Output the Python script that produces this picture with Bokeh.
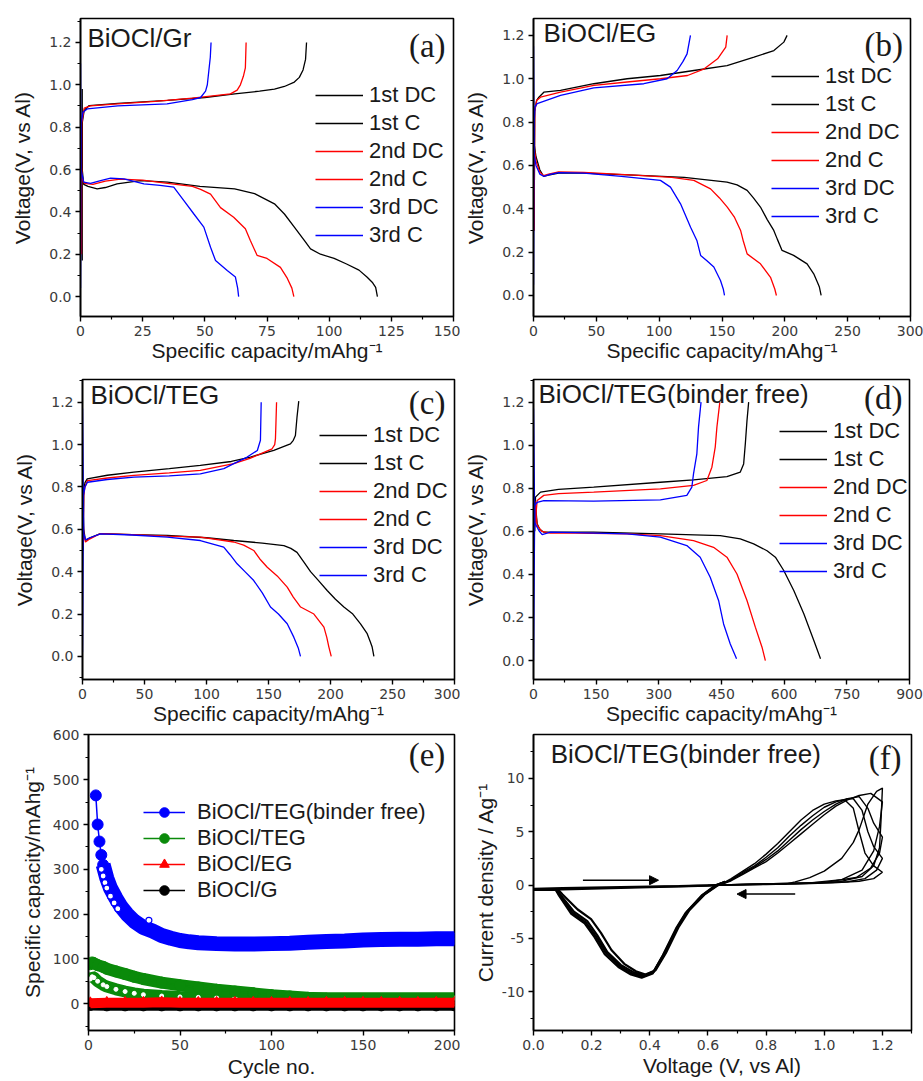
from bokeh.plotting import figure
from bokeh.models import (Range1d, FixedTicker, PrintfTickFormatter, Legend, LegendItem,
                          Label, Arrow, NormalHead)
from bokeh.layouts import row, column
from bokeh.embed import file_html
from bokeh.resources import INLINE

BLACK, RED, BLUE, GREEN = "#000000", "#ff0000", "#0000ff", "#0a8a0a"

# ---------------- tick values ----------------
volt_ticks = [0.0, 0.2, 0.4, 0.6, 0.8, 1.0, 1.2]
volt_minor = [-0.1, 0.1, 0.3, 0.5, 0.7, 0.9, 1.1, 1.3]
a_xticks = [0, 25, 50, 75, 100, 125, 150]
bc_xticks = [0, 50, 100, 150, 200, 250, 300]
d_xticks = [0, 150, 300, 450, 600, 750, 900]
e_xticks = [0, 50, 100, 150, 200]
e_yticks = [0, 100, 200, 300, 400, 500, 600]
f_xticks = [0.0, 0.2, 0.4, 0.6, 0.8, 1.0, 1.2]
f_yticks = [-10, -5, 0, 5, 10]

curve_labels = ["1st DC", "1st C", "2nd DC", "2nd C", "3rd DC", "3rd C"]

# ---------------- (a) BiOCl/Gr ----------------
a_dc1_cap = [0.7, 0.7, 1.3, 3.0, 6.7, 10.0, 14.7, 24.0, 35.0, 48.0, 62.0, 70.0, 78.0, 82.0, 86.0, 90.0, 92.5, 96.5, 102.0, 107.0, 112.0, 115.3, 117.5, 118.7, 119.4]
a_dc1_v = [0.98, 0.60, 0.53, 0.52, 0.509, 0.515, 0.532, 0.548, 0.54, 0.52, 0.509, 0.486, 0.438, 0.39, 0.328, 0.265, 0.225, 0.2, 0.18, 0.154, 0.125, 0.091, 0.065, 0.044, 0.0]
a_c1_cap = [0.7, 0.7, 1.5, 3.5, 15, 35, 50, 62, 72, 78, 82, 86, 88, 89.5, 90.5, 90.9]
a_c1_v = [0.17, 0.82, 0.88, 0.902, 0.912, 0.926, 0.94, 0.957, 0.97, 0.98, 0.992, 1.013, 1.035, 1.07, 1.12, 1.2]
a_dc2_cap = [0.3, 0.6, 1.5, 5, 10, 16, 25, 35, 45, 48.3, 52.3, 56.3, 61.6, 66.3, 68.3, 71, 75, 80.4, 83, 85, 85.8]
a_dc2_v = [0.62, 0.56, 0.535, 0.53, 0.545, 0.555, 0.55, 0.535, 0.52, 0.506, 0.484, 0.42, 0.375, 0.32, 0.265, 0.195, 0.18, 0.138, 0.09, 0.04, 0.0]
a_c2_cap = [0.4, 0.5, 1.5, 4, 15, 30, 45, 55, 60.3, 63, 64.3, 65.5, 66.3, 66.6]
a_c2_v = [0.2, 0.82, 0.89, 0.9, 0.91, 0.922, 0.937, 0.95, 0.957, 0.975, 1.0, 1.04, 1.08, 1.2]
a_dc3_cap = [0.0, 0.2, 1.3, 4, 8.1, 12.1, 17.5, 25.5, 32, 37.5, 41.5, 45.6, 49.6, 52.3, 54.3, 59, 62.3, 63.2, 63.6]
a_dc3_v = [1.1, 0.6, 0.54, 0.535, 0.548, 0.559, 0.556, 0.532, 0.525, 0.517, 0.454, 0.39, 0.328, 0.233, 0.17, 0.123, 0.092, 0.04, 0.0]
a_c3_cap = [0.0, 0.3, 1.0, 2.7, 15, 34.8, 45, 48.3, 50.3, 51.0, 51.6, 52.2, 52.5]
a_c3_v = [0.04, 0.82, 0.87, 0.886, 0.9, 0.91, 0.93, 0.94, 0.97, 1.0, 1.065, 1.13, 1.2]

# ---------------- (b) BiOCl/EG ----------------
b_dc1_cap = [0.3, 0.5, 2, 5, 8, 12, 20, 40, 80, 120, 154, 162, 170, 175, 180.6, 186, 191.2, 194, 197.8, 207, 217.7, 223, 226, 227.5, 228.9]
b_dc1_v = [0.72, 0.7, 0.64, 0.58, 0.55, 0.555, 0.565, 0.565, 0.555, 0.545, 0.523, 0.51, 0.485, 0.45, 0.408, 0.35, 0.3, 0.26, 0.208, 0.185, 0.146, 0.1, 0.06, 0.039, 0.0]
b_c1_cap = [0.5, 1.0, 2.5, 4.3, 8.2, 21.5, 48, 74.5, 101, 127.6, 154, 175.5, 191.3, 199.2, 201.8]
b_c1_v = [0.3, 0.85, 0.9, 0.915, 0.938, 0.946, 0.977, 1.0, 1.015, 1.038, 1.061, 1.1, 1.13, 1.169, 1.2]
b_dc2_cap = [0.2, 0.5, 2, 5, 8, 12, 20, 40, 80, 110, 127.6, 140.9, 148, 154.2, 160, 164.8, 167, 170, 180.6, 188.6, 192, 193.3]
b_dc2_v = [0.72, 0.68, 0.62, 0.57, 0.553, 0.56, 0.57, 0.568, 0.555, 0.545, 0.531, 0.492, 0.45, 0.408, 0.36, 0.3, 0.25, 0.192, 0.146, 0.084, 0.03, 0.0]
b_c2_cap = [0.5, 1.0, 2.5, 5.6, 21.5, 48, 74.5, 101, 122.6, 135.9, 146.5, 153, 154.1]
b_c2_v = [0.3, 0.85, 0.9, 0.915, 0.938, 0.969, 0.985, 1.0, 1.015, 1.046, 1.092, 1.146, 1.2]
b_dc3_cap = [0.0, 0.5, 2, 5, 8, 12, 20, 40, 70, 101, 109, 117, 125, 130, 133, 138, 143.5, 148.8, 151, 152]
b_dc3_v = [1.15, 0.65, 0.6, 0.56, 0.55, 0.557, 0.567, 0.565, 0.55, 0.531, 0.5, 0.423, 0.315, 0.254, 0.185, 0.16, 0.131, 0.069, 0.03, 0.0]
b_c3_cap = [0.0, 0.5, 1.2, 2.9, 21.5, 48, 87.8, 106.3, 114.3, 119, 122.2, 124.9]
b_c3_v = [0.05, 0.8, 0.87, 0.885, 0.923, 0.958, 0.977, 1.0, 1.038, 1.08, 1.115, 1.2]

# ---------------- (c) BiOCl/TEG ----------------
c_dc1_cap = [0.5, 1.0, 2.4, 6, 14.5, 40, 68.3, 100, 122, 145, 162.4, 168, 173, 178, 183.9, 190, 197.3, 204, 210.8, 218, 224.2, 229.6, 232, 233.6, 235]
c_dc1_v = [0.7, 0.6, 0.547, 0.56, 0.58, 0.575, 0.571, 0.56, 0.547, 0.535, 0.523, 0.51, 0.491, 0.45, 0.4, 0.36, 0.311, 0.27, 0.233, 0.2, 0.154, 0.107, 0.07, 0.044, 0.0]
c_c1_cap = [0.5, 1.0, 2.0, 3.8, 20, 41.4, 70, 95, 120, 135.4, 154.3, 162, 167.7, 170, 171.7, 173, 174.4]
c_c1_v = [0.5, 0.78, 0.82, 0.838, 0.855, 0.87, 0.886, 0.902, 0.92, 0.941, 0.972, 0.99, 1.003, 1.02, 1.043, 1.13, 1.205]
c_dc2_cap = [0.3, 1.0, 2.4, 6, 14.5, 40, 68.3, 95, 122, 130, 138.1, 143, 149, 157, 165.1, 170, 175.9, 186.6, 194.7, 197, 198.7, 200.6]
c_dc2_v = [0.7, 0.58, 0.54, 0.555, 0.58, 0.575, 0.568, 0.563, 0.54, 0.525, 0.5, 0.46, 0.421, 0.38, 0.327, 0.28, 0.233, 0.2, 0.138, 0.09, 0.044, 0.0]
c_c2_cap = [0.5, 1.0, 2.0, 4, 20, 41.4, 70, 95, 122, 135, 143.5, 152.9, 155, 155.6, 156, 156.5]
c_c2_v = [0.52, 0.76, 0.8, 0.83, 0.842, 0.854, 0.866, 0.878, 0.91, 0.935, 0.956, 0.98, 1.0, 1.027, 1.1, 1.2]
c_dc3_cap = [0.0, 1.0, 2.4, 6, 14.5, 40, 68.3, 95, 113.9, 119, 124.7, 131, 138.1, 145, 151.6, 158, 165.1, 170.4, 174, 175.8]
c_dc3_v = [1.17, 0.58, 0.55, 0.56, 0.578, 0.573, 0.563, 0.547, 0.516, 0.48, 0.437, 0.4, 0.358, 0.3, 0.233, 0.2, 0.154, 0.091, 0.04, 0.0]
c_c3_cap = [0.0, 0.8, 2.0, 4, 20, 41.4, 70, 95, 114, 122, 132.8, 141, 143.5, 144.1]
c_c3_v = [0.02, 0.76, 0.8, 0.822, 0.835, 0.846, 0.852, 0.862, 0.886, 0.91, 0.941, 0.972, 1.02, 1.2]

# ---------------- (d) BiOCl/TEG (binder free) ----------------
d_dc1_cap = [3, 8.8, 15, 24.7, 60, 144, 303.7, 447, 495, 527, 559, 579, 599, 623, 647, 671, 687]
d_dc1_v = [0.76, 0.635, 0.61, 0.596, 0.596, 0.596, 0.588, 0.58, 0.565, 0.542, 0.51, 0.48, 0.418, 0.325, 0.217, 0.093, 0.008]
d_c1_cap = [3, 4.8, 16.8, 60, 144, 303.7, 383, 463, 495, 503, 507, 511, 515]
d_c1_v = [0.6, 0.759, 0.782, 0.795, 0.805, 0.828, 0.839, 0.854, 0.875, 0.913, 1.006, 1.114, 1.2]
d_dc2_cap = [3, 8.8, 20, 40, 100, 224, 303.7, 383, 431, 463, 487, 511, 531, 547, 555]
d_dc2_v = [0.74, 0.627, 0.6, 0.592, 0.592, 0.588, 0.58, 0.557, 0.526, 0.48, 0.402, 0.279, 0.155, 0.062, 0.0]
d_c2_cap = [3, 8.8, 24.7, 60, 144, 303.7, 383, 415, 427, 435, 439, 446]
d_c2_v = [0.62, 0.743, 0.767, 0.775, 0.782, 0.797, 0.813, 0.836, 0.898, 0.991, 1.084, 1.2]
d_dc3_cap = [0, 3, 12.8, 20.7, 40.7, 100, 224, 303.7, 367, 399, 423, 443, 455, 471, 486]
d_dc3_v = [1.17, 0.64, 0.604, 0.585, 0.596, 0.594, 0.588, 0.573, 0.534, 0.48, 0.387, 0.279, 0.17, 0.077, 0.008]
d_c3_cap = [0, 3, 8.8, 24.7, 144, 303.7, 367, 379, 383, 391, 395, 401]
d_c3_v = [0.0, 0.72, 0.735, 0.743, 0.74, 0.746, 0.767, 0.805, 0.867, 0.96, 1.084, 1.2]

# ---------------- (e) cycling ----------------
e_cyc_bf = [4, 5, 6, 7, 8, 10, 12, 15, 18, 21, 25, 30, 35, 40, 45, 50, 55, 60, 70, 80, 90, 100, 110, 120, 130, 140, 150, 160, 170, 180, 190, 200]
e_dc_bf = [465, 400, 362, 332, 310, 280, 258, 235, 215, 200, 184, 170, 162, 152, 146, 141, 138, 136, 134, 133, 133, 134, 135, 137, 139, 140, 142, 143, 144, 144, 145, 145]
e_cyc_bf_c = [7, 8, 9, 10, 12, 14, 16, 33]
e_ch_bf = [300, 285, 270, 258, 240, 225, 212, 186]
e_cyc_teg = [1, 2, 3, 5, 8, 10, 15, 20, 25, 30, 40, 50, 60, 70, 80, 90, 100, 110, 120, 130, 140, 150, 160, 170, 180, 190, 200]
e_dc_teg = [88, 92, 90, 86, 82, 78, 72, 66, 60, 55, 47, 41, 36, 31, 27, 23, 19, 16, 13, 11, 10, 9, 8, 7, 7, 6, 6]
e_cyc_teg_c = [1, 2, 3, 5, 8, 10, 15, 20, 25, 30, 40, 50, 60, 70, 80, 100, 120, 150, 200]
e_ch_teg = [55, 60, 58, 50, 42, 38, 32, 27, 23, 20, 17, 15, 14, 13, 13, 12, 12, 12, 12]
e_cyc_eg_g = [1, 10, 20, 30, 40, 50, 60, 70, 80, 90, 100, 110, 120, 130, 140, 150, 160, 170, 180, 190, 200]
e_cap_eg = [1, 2, 2, 2, 3, 2, 2, 2, 2, 2, 2, 2, 2, 2, 2, 2, 2, 2, 2, 2, 2]
e_cap_g = [-4, -5, -5, -5, -5, -5, -5, -5, -5, -5, -5, -5, -5, -5, -5, -5, -5, -5, -5, -5, -5]

# ---------------- (f) CV ----------------
f_fwd1_v = [0.0, 0.1, 0.2, 0.3, 0.4, 0.5, 0.6, 0.64]
f_fwd1_i = [-0.35, -0.3, -0.25, -0.2, -0.15, -0.1, -0.03, 0.0]
f_fwd2_v = [0.0, 0.1, 0.2, 0.3, 0.4, 0.5, 0.6, 0.64]
f_fwd2_i = [-0.45, -0.42, -0.35, -0.28, -0.2, -0.12, -0.05, 0.0]
f_red1_v = [0.66, 0.632, 0.586, 0.529, 0.495, 0.449, 0.415, 0.381, 0.345, 0.30, 0.254, 0.219, 0.185, 0.139, 0.093, 0.08, 0.0]
f_red1_i = [0.3, 0.0, -0.9, -2.5, -4.0, -6.5, -8.1, -8.5, -8.2, -7.5, -6.3, -4.7, -3.4, -2.5, -0.93, -0.45, -0.45]
f_red2_v = [0.66, 0.635, 0.59, 0.535, 0.50, 0.455, 0.42, 0.385, 0.352, 0.312, 0.268, 0.232, 0.198, 0.152, 0.10, 0.085, 0.0]
f_red2_i = [0.3, 0.0, -0.85, -2.4, -3.9, -6.4, -8.0, -8.4, -8.1, -7.4, -6.1, -4.5, -3.2, -2.3, -0.9, -0.45, -0.45]
f_red3_v = [0.66, 0.628, 0.58, 0.524, 0.49, 0.445, 0.41, 0.372, 0.335, 0.292, 0.245, 0.21, 0.176, 0.13, 0.088, 0.076, 0.0]
f_red3_i = [0.3, 0.0, -0.95, -2.6, -4.1, -6.6, -8.3, -8.7, -8.4, -7.7, -6.5, -4.9, -3.6, -2.7, -1.0, -0.45, -0.45]
f_red4_v = [0.66, 0.63, 0.583, 0.527, 0.493, 0.447, 0.412, 0.377, 0.34, 0.296, 0.25, 0.214, 0.18, 0.134, 0.09, 0.078, 0.0]
f_red4_i = [0.3, 0.0, -0.92, -2.55, -4.05, -6.55, -8.2, -8.6, -8.3, -7.6, -6.4, -4.8, -3.5, -2.6, -0.96, -0.45, -0.45]
f_ox1_v = [0.64, 0.68, 0.72, 0.76, 0.80, 0.84, 0.88, 0.92, 0.96, 1.00, 1.04, 1.07, 1.10, 1.12, 1.14, 1.17, 1.20, 1.17, 1.12, 1.03, 0.90, 0.64]
f_ox1_i = [0.0, 0.6, 1.3, 2.0, 2.9, 3.9, 5.0, 6.1, 7.0, 7.6, 7.9, 8.0, 7.2, 5.0, 3.0, 1.8, 1.2, 0.6, 0.35, 0.2, 0.1, 0.0]
f_ox2_v = [0.64, 0.68, 0.72, 0.76, 0.80, 0.84, 0.88, 0.92, 0.96, 1.00, 1.04, 1.08, 1.10, 1.13, 1.15, 1.17, 1.20, 1.18, 1.14, 1.08, 0.95, 0.64]
f_ox2_i = [0.0, 0.5, 1.2, 1.8, 2.6, 3.5, 4.6, 5.6, 6.5, 7.3, 7.8, 8.1, 8.1, 7.0, 5.0, 3.6, 2.5, 1.4, 0.6, 0.3, 0.15, 0.0]
f_ox3_v = [0.64, 0.68, 0.72, 0.76, 0.80, 0.84, 0.88, 0.92, 0.96, 1.00, 1.04, 1.08, 1.12, 1.15, 1.17, 1.20, 1.19, 1.16, 1.11, 1.00, 0.64]
f_ox3_i = [0.0, 0.45, 1.1, 1.7, 2.4, 3.2, 4.2, 5.2, 6.1, 6.9, 7.6, 8.1, 8.3, 7.2, 5.8, 4.5, 3.0, 1.6, 0.7, 0.25, 0.0]
f_ox4_v = [0.64, 0.68, 0.72, 0.76, 0.80, 0.84, 0.88, 0.92, 0.96, 1.00, 1.04, 1.08, 1.12, 1.16, 1.20, 1.19, 1.17, 1.13, 1.06, 0.95, 0.64]
f_ox4_i = [0.0, 0.4, 1.0, 1.6, 2.2, 3.0, 3.9, 4.8, 5.7, 6.6, 7.4, 8.0, 8.4, 8.6, 7.8, 5.5, 3.2, 1.4, 0.5, 0.2, 0.0]
f_ox5_v = [0.64, 0.80, 0.87, 0.90, 0.95, 1.00, 1.06, 1.10, 1.12, 1.15, 1.18, 1.20, 1.195, 1.19, 1.17, 1.13, 1.05, 0.90, 0.64]
f_ox5_i = [0.0, 0.05, 0.1, 0.3, 0.7, 1.3, 2.5, 4.0, 5.2, 7.6, 8.8, 9.1, 6.0, 3.5, 1.8, 0.8, 0.3, 0.15, 0.0]
f_arrow_x0 = [0.17, 0.90]
f_arrow_x1 = [0.43, 0.70]
f_arrow_y = [0.45, -0.85]

CAP_LABEL = "Specific capacity/mAhg\u207b\u00b9"
TICK_FONT, TICK_SIZE, TICK_COLOR = "DejaVu Sans", "14px", "#3a3a3a"
LAB_FONT = "Liberation Sans"
TXT = "#1a1a1a"


def make_panel(xr, yr, fw, fh, bl, br, bt, bb, xt, xmt, yt, ymt, xlabel, ylabel,
               xstand, ystand, xfmt=None, yfmt=None):
    p = figure(frame_width=fw, frame_height=fh, x_range=Range1d(*xr), y_range=Range1d(*yr),
               min_border_left=bl, min_border_right=br, min_border_top=bt, min_border_bottom=bb,
               output_backend="svg", toolbar_location=None)
    p.grid.visible = False
    p.outline_line_color = "black"
    p.outline_line_width = 1.6
    p.outline_line_alpha = 1.0
    p.xaxis.ticker = FixedTicker(ticks=xt, minor_ticks=xmt)
    p.yaxis.ticker = FixedTicker(ticks=yt, minor_ticks=ymt)
    if xfmt:
        p.xaxis.formatter = PrintfTickFormatter(format=xfmt)
    if yfmt:
        p.yaxis.formatter = PrintfTickFormatter(format=yfmt)
    for ax in p.xaxis + p.yaxis:
        ax.axis_line_width = 1.6
        ax.major_tick_out = 5
        ax.major_tick_in = 0
        ax.minor_tick_out = 3
        ax.minor_tick_in = 0
        ax.major_tick_line_width = 1.4
        ax.minor_tick_line_width = 1.2
        ax.major_label_text_font = TICK_FONT
        ax.major_label_text_font_size = TICK_SIZE
        ax.major_label_text_color = TICK_COLOR
        ax.major_label_standoff = 4
        ax.axis_label_text_font = LAB_FONT
        ax.axis_label_text_font_size = "21px"
        ax.axis_label_text_font_style = "normal"
        ax.axis_label_text_color = TXT
    p.xaxis.axis_label = xlabel
    p.yaxis.axis_label = ylabel
    p.xaxis.axis_label_standoff = xstand
    p.yaxis.axis_label_standoff = ystand
    return p


def half(ticks):
    return [(ticks[i] + ticks[i + 1]) / 2 for i in range(len(ticks) - 1)]


def add_title(p, x, y, text, size="26px"):
    p.add_layout(Label(x=x, y=y, text=text, text_font=LAB_FONT, text_font_size=size,
                       text_color=TXT, text_baseline="middle"))


def add_letter(p, x, y, text):
    p.add_layout(Label(x=x, y=y, text=text, text_font="Liberation Serif", text_font_size="33px",
                       text_color=TXT, text_align="right", text_baseline="middle"))


def cd_panel(curves, xr, yr, xt, fw, fh, bl, br, bt, bb, legend_loc, title, title_xy, letter, letter_xy):
    p = make_panel(xr, yr, fw, fh, bl, br, bt, bb, xt, half(xt), volt_ticks, volt_minor,
                   CAP_LABEL, "Voltage(V, vs Al)", 0, 12, yfmt="%.1f")
    colors = [BLACK, BLACK, RED, RED, BLUE, BLUE]
    rends = []
    for (cap, v), col in zip(curves, colors):
        rends.append(p.line(cap, v, line_color=col, line_width=1.3))
    items = [LegendItem(label=lab, renderers=[r]) for lab, r in zip(curve_labels, rends)]
    leg = Legend(items=items, location=legend_loc, padding=0, margin=0, spacing=2,
                 glyph_width=48, glyph_height=24, label_height=24, label_standoff=6,
                 label_text_font=LAB_FONT, label_text_font_size="22px", label_text_color=TXT,
                 border_line_alpha=0, background_fill_alpha=0)
    p.add_layout(leg)
    add_title(p, title_xy[0], title_xy[1], title)
    add_letter(p, letter_xy[0], letter_xy[1], letter)
    return p


# row 1: frames 18..316 ; row 2: frames 379..679 ; row 3: frames 733..1029
pa = cd_panel([(a_dc1_cap, a_dc1_v), (a_c1_cap, a_c1_v), (a_dc2_cap, a_dc2_v),
               (a_c2_cap, a_c2_v), (a_dc3_cap, a_dc3_v), (a_c3_cap, a_c3_v)],
              (0, 150), (-0.094, 1.313), a_xticks, 373, 298, 80, 7, 18, 56, (235, 68),
              "BiOCl/Gr", (2.8, 1.219), "(a)", (146.8, 1.181))
pb = cd_panel([(b_dc1_cap, b_dc1_v), (b_c1_cap, b_c1_v), (b_dc2_cap, b_dc2_v),
               (b_c2_cap, b_c2_v), (b_dc3_cap, b_dc3_v), (b_c3_cap, b_c3_v)],
              (0, 300), (-0.097, 1.278), bc_xticks, 377, 298, 73, 13, 18, 56, (238, 87),
              "BiOCl/EG", (8, 1.209), "(b)", (294, 1.158))
pc = cd_panel([(c_dc1_cap, c_dc1_v), (c_c1_cap, c_c1_v), (c_dc2_cap, c_dc2_v),
               (c_c2_cap, c_c2_v), (c_dc3_cap, c_dc3_v), (c_c3_cap, c_c3_v)],
              (0, 300), (-0.109, 1.307), bc_xticks, 372, 300, 82, 6, 7, 47, (237, 91),
              "BiOCl/TEG", (6.5, 1.232), "(c)", (292.7, 1.194))
pd_ = cd_panel([(d_dc1_cap, d_dc1_v), (d_c1_cap, d_c1_v), (d_dc2_cap, d_dc2_v),
                (d_c2_cap, d_c2_v), (d_dc3_cap, d_dc3_v), (d_c3_cap, d_c3_v)],
               (0, 900), (-0.088, 1.305), d_xticks, 376, 300, 73, 14, 7, 47, (246, 95),
               "BiOCl/TEG(binder free)", (12, 1.236), "(d)", (883, 1.217))

# ---------------- panel e ----------------
pe = make_panel((0, 200), (-60, 601), 366, 296, 88, 6, 7, 52, e_xticks, half(e_xticks),
                e_yticks, half(e_yticks) + [-50], "Cycle no.", CAP_LABEL, 2, 6)
# BiOCl/TEG (green)
pe.line(e_cyc_teg_c, e_ch_teg, line_color=GREEN, line_width=12)
pe.line(e_cyc_teg, e_dc_teg, line_color=GREEN, line_width=12)
pe.scatter(e_cyc_teg_c, e_ch_teg, marker="circle", size=4, fill_color="white", line_color="white")
teg_thin = pe.line(e_cyc_teg, e_dc_teg, line_color=GREEN, line_width=1.5)
teg_sc = pe.scatter(e_cyc_teg, e_dc_teg, marker="circle", size=11, fill_color=GREEN, line_color=GREEN)
# BiOCl/G (black)
pe.line(e_cyc_eg_g, e_cap_g, line_color=BLACK, line_width=10)
g_thin = pe.line(e_cyc_eg_g, e_cap_g, line_color=BLACK, line_width=1.5)
g_sc = pe.scatter(e_cyc_eg_g, e_cap_g, marker="circle", size=10, fill_color=BLACK, line_color=BLACK)
# BiOCl/EG (red)
pe.line(e_cyc_eg_g, e_cap_eg, line_color=RED, line_width=10)
eg_thin = pe.line(e_cyc_eg_g, e_cap_eg, line_color=RED, line_width=1.5)
eg_sc = pe.scatter(e_cyc_eg_g, e_cap_eg, marker="triangle", size=11, fill_color=RED, line_color=RED)
# BiOCl/TEG binder free (blue)
pe.line(e_cyc_bf[4:], e_dc_bf[4:], line_color=BLUE, line_width=15)
bf_thin = pe.line(e_cyc_bf, e_dc_bf, line_color=BLUE, line_width=1.5)
bf_sc = pe.scatter(e_cyc_bf, e_dc_bf, marker="circle", size=11, fill_color=BLUE, line_color=BLUE)
pe.scatter(e_cyc_bf_c, e_ch_bf, marker="circle", size=6, fill_color="white", line_color=BLUE, line_width=1.2)
leg_e = Legend(items=[LegendItem(label="BiOCl/TEG(binder free)", renderers=[bf_thin, bf_sc]),
                      LegendItem(label="BiOCl/TEG", renderers=[teg_thin, teg_sc]),
                      LegendItem(label="BiOCl/EG", renderers=[eg_thin, eg_sc]),
                      LegendItem(label="BiOCl/G", renderers=[g_thin, g_sc])],
               location=(55, 127), padding=0, margin=0, spacing=0, glyph_width=42, glyph_height=24,
               label_height=24, label_standoff=12, label_text_font=LAB_FONT,
               label_text_font_size="22px", label_text_color=TXT,
               border_line_alpha=0, background_fill_alpha=0)
pe.add_layout(leg_e)
add_letter(pe, 195, 556, "(e)")

# ---------------- panel f ----------------
pf = make_panel((0, 1.3), (-13.66, 14.13), 378, 296, 73, 12, 7, 52, f_xticks, half(f_xticks) + [1.3],
                f_yticks, [-12.5, -7.5, -2.5, 2.5, 7.5, 12.5], "Voltage (V, vs Al)",
                "Current density / Ag\u207b\u00b9", 1, 2, xfmt="%.1f", yfmt="%d")
for vv, ii in [(f_fwd1_v, f_fwd1_i), (f_fwd2_v, f_fwd2_i),
               (f_red1_v, f_red1_i), (f_red2_v, f_red2_i), (f_red3_v, f_red3_i), (f_red4_v, f_red4_i)]:
    pf.line(vv, ii, line_color=BLACK, line_width=2.2)
for vv, ii in [(f_ox1_v, f_ox1_i), (f_ox2_v, f_ox2_i), (f_ox3_v, f_ox3_i), (f_ox4_v, f_ox4_i),
               (f_ox5_v, f_ox5_i)]:
    pf.line(vv, ii, line_color=BLACK, line_width=1.4)
for k in range(2):
    pf.add_layout(Arrow(end=NormalHead(size=9, fill_color=BLACK, line_color=BLACK, line_width=1),
                        x_start=f_arrow_x0[k], y_start=f_arrow_y[k], x_end=f_arrow_x1[k],
                        y_end=f_arrow_y[k], line_width=1.5, line_color=BLACK))
add_title(pf, 0.059, 12.3, "BiOCl/TEG(binder free)")
add_letter(pf, 1.266, 11.9, "(f)")

layout = column(row(pa, pb), row(pc, pd_), row(pe, pf))
open("out.html", "w").write(file_html(layout, INLINE, title="BiOCl charge-discharge"))
